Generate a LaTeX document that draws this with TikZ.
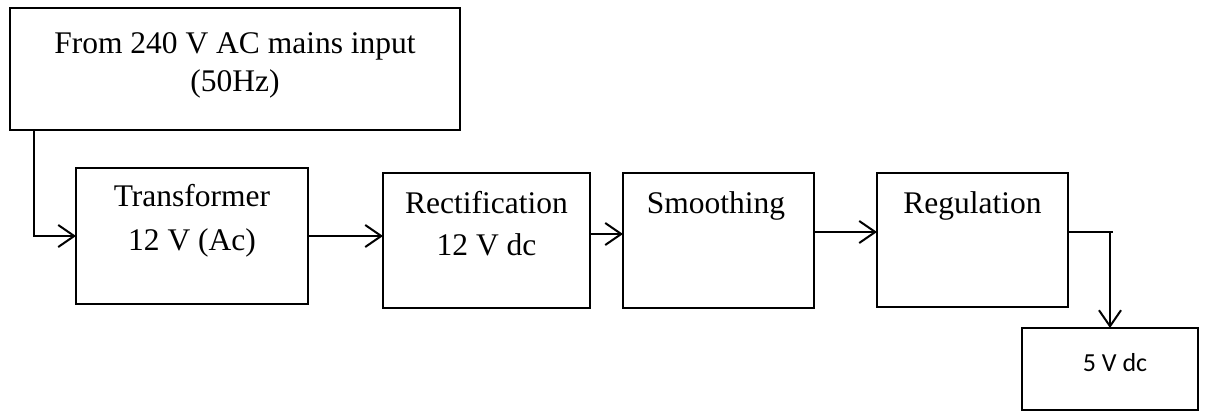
\documentclass[tikz,border=0pt]{standalone}
\usepackage{fontspec}
\setmainfont{Liberation Serif}
\newfontfamily\calibrifont{Carlito}
\usetikzlibrary{arrows.meta}
\begin{document}
\begin{tikzpicture}[x=0.5pt,y=-0.5pt,
  blk/.style 2 args={draw, line width=1pt, minimum width=#1*0.5pt,
    minimum height=#2*0.5pt, inner sep=0pt, outer sep=0pt},
  lbl/.style={anchor=base, inner sep=0pt, font=\fontsize{15.75}{18}\selectfont},
  wire/.style={line width=1pt},
  arr/.style={wire, -{Straight Barb[length=8pt,width=11pt]}}]
\useasboundingbox (0,0) rectangle (1207,412);

% blocks of the power supply chain
\node[blk={450}{122}] (mains)  at (235,69)     {};
\node[blk={232}{136}] (tr)     at (192,236)    {};
\node[blk={207}{135}] (rect)   at (486.5,240.5) {};
\node[blk={191}{135}] (smooth) at (718.5,240.5) {};
\node[blk={191}{134}] (reg)    at (972.5,240)  {};
\node[blk={176}{82}]  (out)    at (1110,369)   {};

% block texts
\node[lbl] (mains-a)  at (235,54)    {From 240 V AC mains input};
\node[lbl] (mains-b)  at (235,91)    {(50Hz)};
\node[lbl] (tr-a)     at (192,206)   {Transformer};
\node[lbl] (tr-b)     at (192,250)   {12 V (Ac)};
\node[lbl] (rect-a)   at (486.5,213) {Rectification};
\node[lbl] (rect-b)   at (486.5,255) {12 V dc};
\node[lbl] (smooth-a) at (716,213)   {Smoothing};
\node[lbl] (reg-a)    at (972.5,213) {Regulation};
\node[lbl, font=\calibrifont\fontsize{13}{15}\selectfont] (out-a) at (1115,371) {5 V dc};

% connectors
\coordinate (tap) at (34,0);
\draw[arr] (mains.south -| tap) |- (tr.west);
\draw[arr] (tr.east) -- (tr.east -| rect.west);
\coordinate (rs) at ([yshift=3.25pt]rect.east);
\draw[arr] (rs) -- (rs -| smooth.west);
\coordinate (sr) at ([yshift=4.25pt]smooth.east);
\draw[arr] (sr) -- (sr -| reg.west);
\coordinate (ro) at ([yshift=4pt]reg.east);
\coordinate (drop) at (1110,0);
\coordinate (knee) at (ro -| drop);
\draw[wire] (ro) -- ([xshift=1.5pt]knee);
\draw[arr] (knee) -- (drop |- out.north);
\end{tikzpicture}
\end{document}
